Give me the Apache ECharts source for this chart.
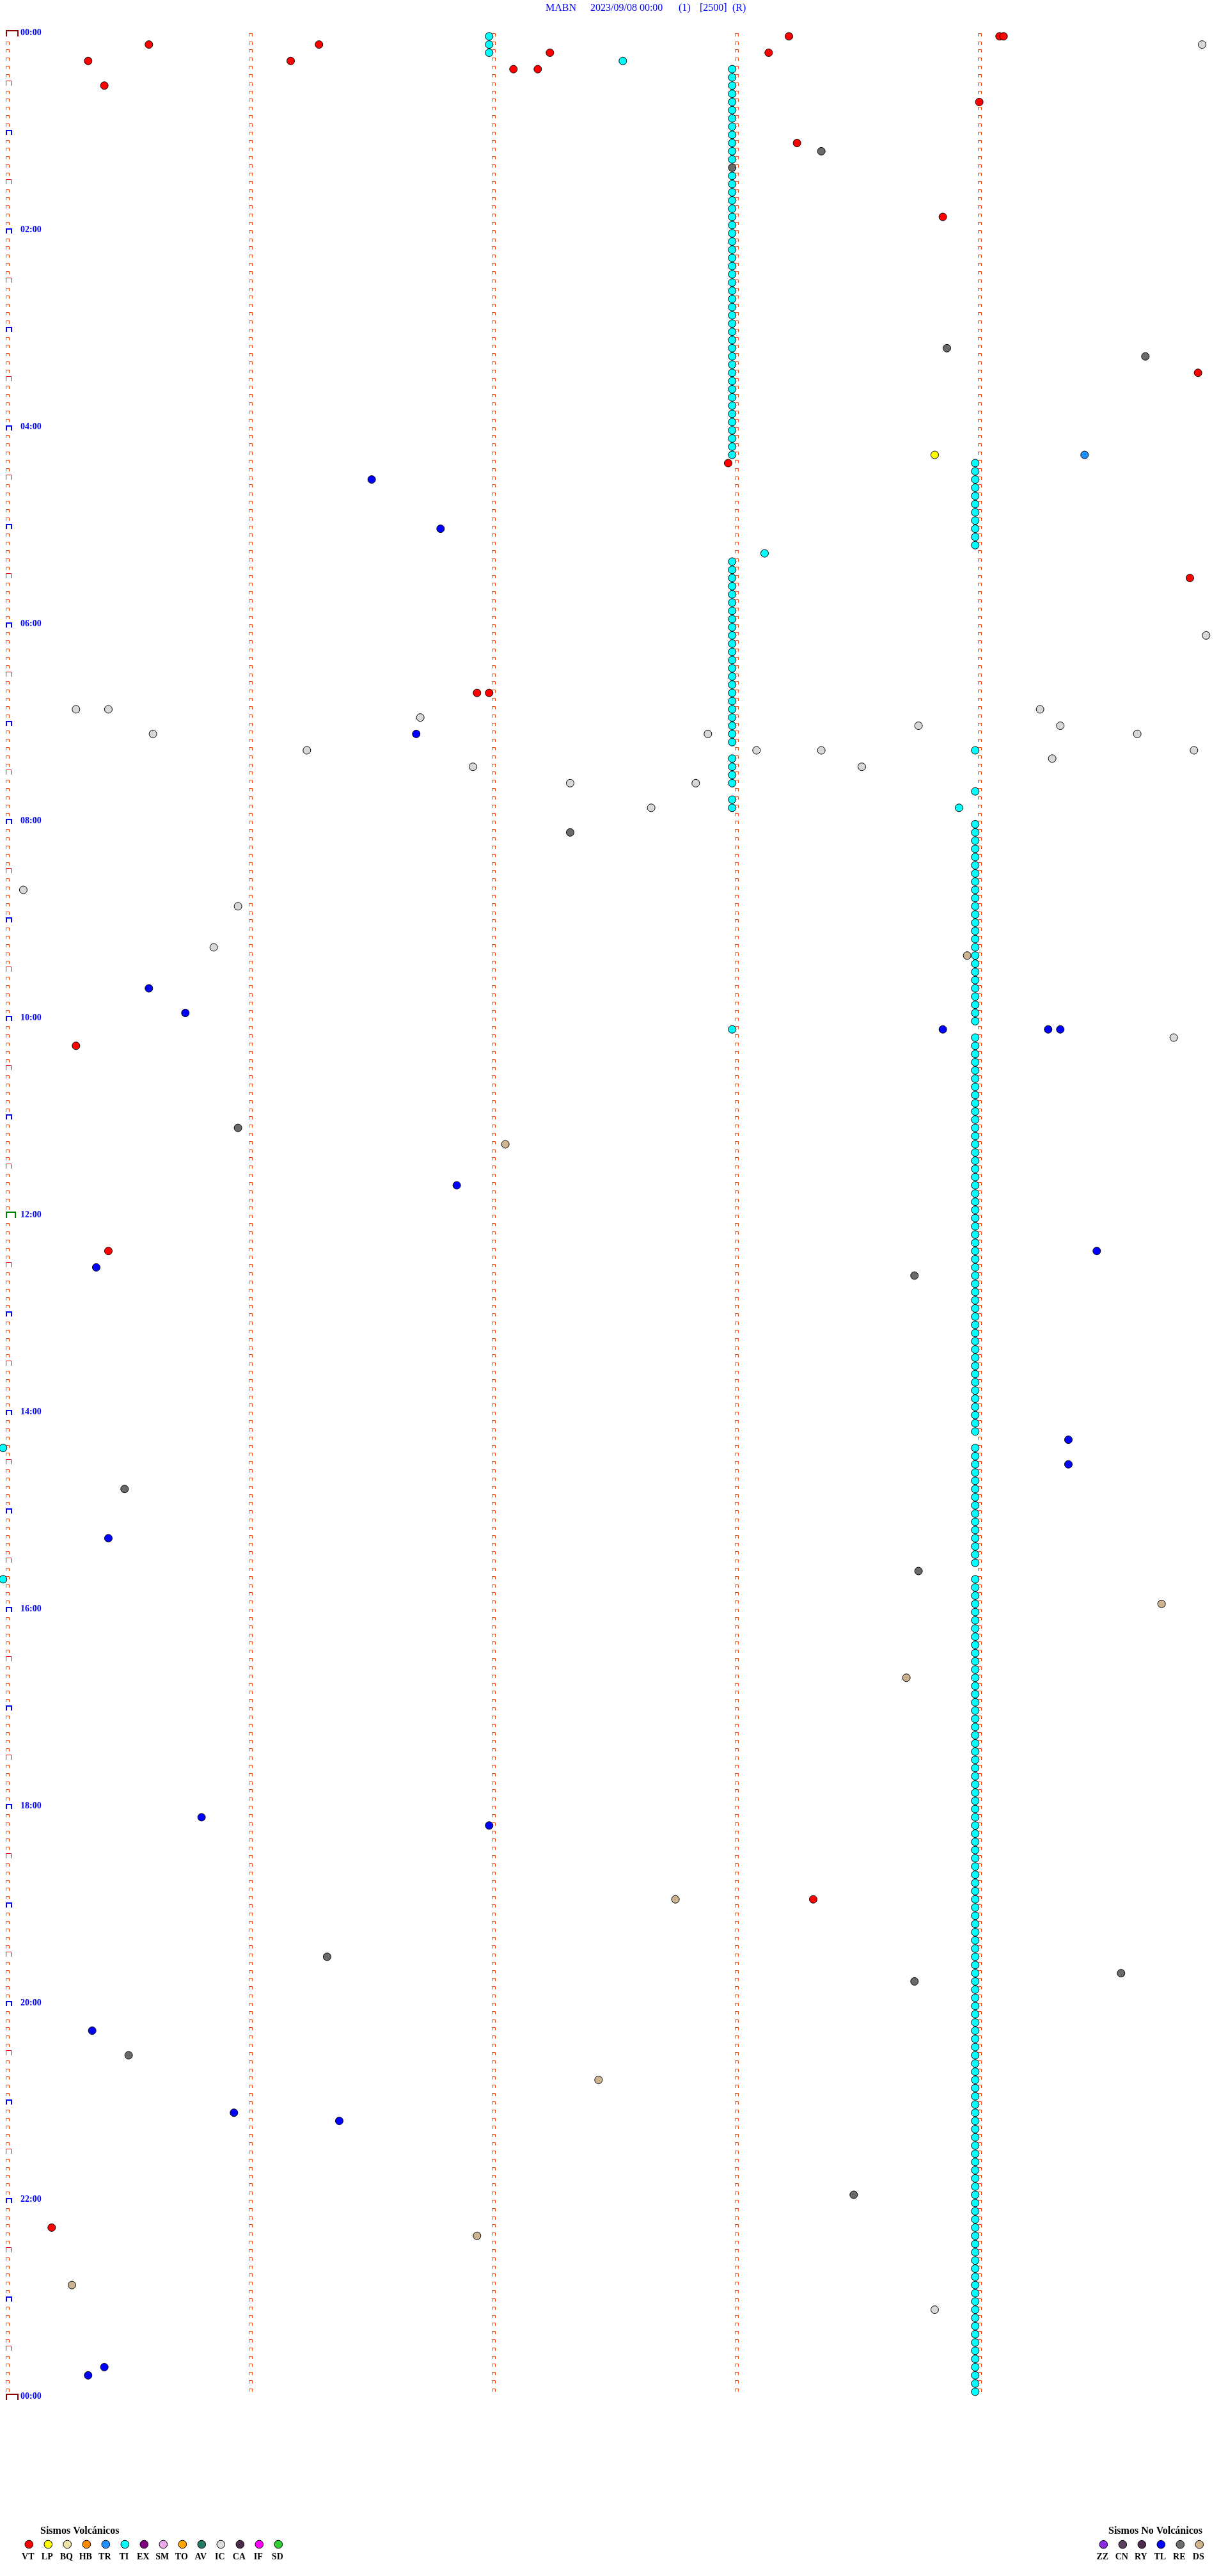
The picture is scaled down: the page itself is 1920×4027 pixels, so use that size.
<!DOCTYPE html>
<html>
<head>
<meta charset="utf-8">
<script src="https://cdn.jsdelivr.net/npm/echarts/dist/echarts.min.js"></script>
<style>
html,body{margin:0;padding:0;background:#ffffff;}
#c{width:1920px;height:4027px;}
</style>
</head>
<body>
<div id="c"></div>
<script>
// ---------------- DATA ----------------
const titleParts = ['MABN', '2023/09/08 00:00', '(1)', '[2500]', '(R)'];
const hourLabels = ['00:00','02:00','04:00','06:00','08:00','10:00','12:00','14:00','16:00','18:00','20:00','22:00','00:00'];
const rowMinutes = 5;               // each trace row covers 5 minutes
const markerMinutes = [0, 1, 2, 3, 4];

const VT = ['00:03:14','00:04:06','00:04:07','00:05:36','00:06:18','00:12:15','00:13:09','00:15:21','00:16:11',
  '00:22:06','00:22:12','00:30:25','00:44:01','01:08:16','01:53:52','03:29:55','04:22:59','05:34:53',
  '06:41:57','06:42:00','10:15:18','12:20:26','18:58:20','22:15:12'];
const LP = ['04:18:50'];
const TR = ['04:19:27'];
const TL = ['04:31:31','05:01:48','07:06:42','09:40:36','09:55:45','10:08:52','10:09:18','10:09:21','11:41:52',
  '12:24:30','12:30:23','14:19:23','14:34:23','15:15:26','18:05:49','18:12:00','20:15:22','21:05:57',
  '21:11:23','23:40:25','23:45:21'];
const RE = ['01:13:22','01:23:00','03:13:53','03:19:42','08:07:20','11:05:58','12:38:45','14:45:30','15:38:46',
  '19:31:20','19:44:36','19:48:45','20:30:31','21:58:30'];
const IC = ['00:09:56','06:09:57','06:50:18','06:50:26','06:54:16','06:56:43','07:03:46','07:04:21','07:05:37',
  '07:07:54','07:09:40','07:16:15','07:18:06','07:18:22','07:19:54','07:24:19','07:26:56','07:28:32',
  '07:37:20','07:37:51','07:52:40','08:40:05','08:50:58','09:15:52','10:14:49','23:08:50'];
const DS = ['09:23:58','11:17:04','15:59:46','16:43:43','18:57:46','20:47:27','22:21:57','22:50:17'];
const TI = [
  '00:02:00','00:07:00','00:12:00','00:17:33',
  '00:23:00','00:28:00','00:33:00','00:38:00','00:43:00','00:48:00','00:53:00','00:58:00',
  '01:03:00','01:08:00','01:13:00','01:18:00','01:28:00','01:33:00','01:38:00','01:43:00','01:48:00','01:53:00','01:58:00',
  '02:03:00','02:08:00','02:13:00','02:18:00','02:23:00','02:28:00','02:33:00','02:38:00','02:43:00','02:48:00','02:53:00','02:58:00',
  '03:03:00','03:08:00','03:13:00','03:18:00','03:23:00','03:28:00','03:33:00','03:38:00','03:43:00','03:48:00','03:53:00','03:58:00',
  '04:03:00','04:08:00','04:13:00','04:18:00',
  '04:24:00','04:29:00','04:34:00','04:39:00','04:44:00','04:49:00','04:54:00','04:59:00',
  '05:04:00','05:09:00','05:14:00','05:18:08',
  '05:23:00','05:28:00','05:33:00','05:38:00','05:43:00','05:48:00','05:53:00','05:58:00',
  '06:03:00','06:08:00','06:13:00','06:18:00','06:23:00','06:28:00','06:33:00','06:38:00','06:43:00','06:48:00','06:53:00','06:58:00',
  '07:03:00','07:08:00','07:13:00','07:19:00','07:23:00','07:28:00','07:33:00','07:38:00','07:44:00','07:48:00','07:53:00','07:53:56',
  '08:04:00','08:09:00','08:14:00','08:19:00','08:24:00','08:29:00','08:34:00','08:39:00','08:44:00','08:49:00','08:54:00','08:59:00',
  '09:04:00','09:09:00','09:14:00','09:19:00','09:24:00','09:29:00','09:34:00','09:39:00','09:44:00','09:49:00','09:54:00','09:59:00',
  '10:04:00','10:08:00','10:14:00','10:19:00','10:24:00','10:29:00','10:34:00','10:39:00','10:44:00','10:49:00','10:54:00','10:59:00',
  '11:04:00','11:09:00','11:14:00','11:19:00','11:24:00','11:29:00','11:34:00','11:39:00','11:44:00','11:49:00','11:54:00','11:59:00',
  '12:04:00','12:09:00','12:14:00','12:19:00','12:24:00','12:29:00','12:34:00','12:39:00','12:44:00','12:49:00','12:54:00','12:59:00',
  '13:04:00','13:09:00','13:14:00','13:19:00','13:24:00','13:29:00','13:34:00','13:39:00','13:44:00','13:49:00','13:54:00','13:59:00',
  '14:04:00','14:09:00','14:14:00','14:20:00','14:24:00','14:29:00','14:34:00','14:39:00','14:44:00','14:49:00','14:54:00','14:59:00',
  '15:04:00','15:09:00','15:14:00','15:19:00','15:24:00','15:29:00','15:34:00','15:40:00','15:44:00','15:49:00','15:54:00','15:59:00',
  '16:04:00','16:09:00','16:14:00','16:19:00','16:24:00','16:29:00','16:34:00','16:39:00','16:44:00','16:49:00','16:54:00','16:59:00',
  '17:04:00','17:09:00','17:14:00','17:19:00','17:24:00','17:29:00','17:34:00','17:39:00','17:44:00','17:49:00','17:54:00','17:59:00',
  '18:04:00','18:09:00','18:14:00','18:19:00','18:24:00','18:29:00','18:34:00','18:39:00','18:44:00','18:49:00','18:54:00','18:59:00',
  '19:04:00','19:09:00','19:14:00','19:19:00','19:24:00','19:29:00','19:34:00','19:39:00','19:44:00','19:49:00','19:54:00','19:59:00',
  '20:04:00','20:09:00','20:14:00','20:19:00','20:24:00','20:29:00','20:34:00','20:39:00','20:44:00','20:49:00','20:54:00','20:59:00',
  '21:04:00','21:09:00','21:14:00','21:19:00','21:24:00','21:29:00','21:34:00','21:39:00','21:44:00','21:49:00','21:54:00','21:59:00',
  '22:04:00','22:09:00','22:14:00','22:19:00','22:24:00','22:29:00','22:34:00','22:39:00','22:44:00','22:49:00','22:54:00','22:59:00',
  '23:04:00','23:09:00','23:14:00','23:19:00','23:24:00','23:29:00','23:34:00','23:39:00','23:44:00','23:49:00','23:54:00','23:59:00'
];

const volcTypes  = ['VT','LP','BQ','HB','TR','TI','EX','SM','TO','AV','IC','CA','IF','SD'];
const volcColors = ['#FF0000','#FFFF00','#EEE4AA','#FF8C00','#1E90FF','#00FFFF','#800080','#EEA8EE','#FFA500','#227A62','#DCDCDC','#4B2D4B','#FF00FF','#32CD32'];
const nonVolcTypes  = ['ZZ','CN','RY','TL','RE','DS'];
const nonVolcColors = ['#8A2BE2','#5A3F5E','#4F2C4F','#0000FF','#6E6E6E','#D2B48C'];
const seriesColors = {VT:'#FF0000', LP:'#FFFF00', TR:'#1E90FF', TI:'#00FFFF', IC:'#D8D8D8', TL:'#0000FF', RE:'#6A6A6A', DS:'#CDB490'};

// ---------------- HELPERS ----------------
const ROWSEC = rowMinutes * 60;
function toPoint(t) {
  const p = t.split(':').map(Number);
  const sec = p[0] * 3600 + p[1] * 60 + p[2];
  const row = Math.floor(sec / ROWSEC);
  return [sec - row * ROWSEC, row];
}
const NROWS = 24 * 60 / rowMinutes; // 288

// marker kinds: 0 small, 1 half hour, 2 hour, 3 noon, 4 day boundary
const markerData = [];
for (let r = 0; r <= NROWS; r++) {
  markerMinutes.forEach(function (m) {
    if (r === NROWS && m > 0) return;
    let kind = 0;
    if (m === 0) {
      const minOfDay = r * rowMinutes;
      if (minOfDay % 1440 === 0) kind = 4;
      else if (minOfDay === 720) kind = 3;
      else if (minOfDay % 60 === 0) kind = 2;
      else if (minOfDay % 30 === 0) kind = 1;
    }
    markerData.push([m * 60, r, kind]);
  });
}
const labelData = hourLabels.map(function (lab, i) { return [0, i * 120 / rowMinutes]; });

const markerStyles = [
  {w: 6,  h: 5,  lw: 1, c: '#FF4500'},
  {w: 9,  h: 8,  lw: 1, c: '#FF0000'},
  {w: 10, h: 8,  lw: 2, c: '#0000FF'},
  {w: 16, h: 10, lw: 2, c: '#008000'},
  {w: 20, h: 10, lw: 2, c: '#8B0000'}
];

function scatterSeries(name, times) {
  return {
    name: name, type: 'scatter', data: times.map(toPoint),
    symbol: 'circle', symbolSize: 12, symbolOffset: [-8, 0],
    itemStyle: {color: seriesColors[name], borderColor: '#000000', borderWidth: 1, opacity: 1},
    z: 5, silent: true, animation: false
  };
}

// ---------------- CHART ----------------
const chart = echarts.init(document.getElementById('c'), null, {renderer: 'canvas', width: 1920, height: 4027});

const graphics = [];
const titleX = [853, 923, 1061, 1094, 1145];
titleParts.forEach(function (t, i) {
  graphics.push({type: 'text', x: titleX[i], y: 12.6,
    style: {text: t, fill: '#0000FF', font: '16px "Liberation Serif"', verticalAlign: 'middle', align: 'left'}});
});
// legends
graphics.push({type: 'text', x: 63, y: 3957,
  style: {text: 'Sismos Volcánicos', fill: '#000000', font: 'bold 16px "Liberation Serif"', verticalAlign: 'middle', align: 'left'}});
volcTypes.forEach(function (t, i) {
  const cx = 45.3 + 30 * i;
  graphics.push({type: 'circle', shape: {cx: cx, cy: 3977.5, r: 6.3},
    style: {fill: volcColors[i], stroke: '#000000', lineWidth: 1}});
  graphics.push({type: 'text', x: cx - 1.5, y: 3997,
    style: {text: t, fill: '#000000', font: 'bold 14px "Liberation Serif"', verticalAlign: 'middle', align: 'center'}});
});
graphics.push({type: 'text', x: 1733, y: 3957,
  style: {text: 'Sismos No Volcánicos', fill: '#000000', font: 'bold 16px "Liberation Serif"', verticalAlign: 'middle', align: 'left'}});
nonVolcTypes.forEach(function (t, i) {
  const cx = 1725.3 + 30 * i;
  graphics.push({type: 'circle', shape: {cx: cx, cy: 3977.7, r: 6.3},
    style: {fill: nonVolcColors[i], stroke: '#000000', lineWidth: 1}});
  graphics.push({type: 'text', x: cx - 1.5, y: 3997,
    style: {text: t, fill: '#000000', font: 'bold 14px "Liberation Serif"', verticalAlign: 'middle', align: 'center'}});
});

const option = {
  animation: false,
  backgroundColor: '#ffffff',
  grid: {left: 12.8, top: 56.8, width: 1900, height: 3695, containLabel: false},
  xAxis: {type: 'value', min: 0, max: ROWSEC, show: false},
  yAxis: {type: 'value', min: 0, max: NROWS, inverse: true, show: false},
  graphic: graphics,
  series: [
    {
      type: 'custom', name: 'marks', data: markerData, clip: false, silent: true, z: 2,
      renderItem: function (params, api) {
        const p = api.coord([api.value(0), api.value(1)]);
        const st = markerStyles[api.value(2)];
        const off = st.lw === 1 ? 0.5 : 0;
        const L = Math.floor(p[0] - 3) + off + (st.lw === 2 ? 1 : 0);
        const R = L + st.w - st.lw;
        const B = Math.round(p[1]);
        const T = Math.round(p[1] - st.h) + off + (st.lw === 2 ? 1 : 0);
        return {type: 'polyline', shape: {points: [[L, B], [L, T], [R, T], [R, B]]},
          style: {stroke: st.c, lineWidth: st.lw, fill: null}};
      }
    },
    {
      type: 'custom', name: 'hourLabels', data: labelData, clip: false, silent: true, z: 3,
      renderItem: function (params, api) {
        const p = api.coord([api.value(0), api.value(1)]);
        return {type: 'text', x: 32, y: p[1] - 5,
          style: {text: hourLabels[params.dataIndex], fill: '#0000FF', font: 'bold 14px "Liberation Serif"',
            verticalAlign: 'middle', align: 'left'}};
      }
    },
    scatterSeries('TI', TI),
    scatterSeries('VT', VT),
    scatterSeries('LP', LP),
    scatterSeries('TR', TR),
    scatterSeries('TL', TL),
    scatterSeries('RE', RE),
    scatterSeries('IC', IC),
    scatterSeries('DS', DS)
  ]
};
chart.setOption(option);
</script>
</body>
</html>
